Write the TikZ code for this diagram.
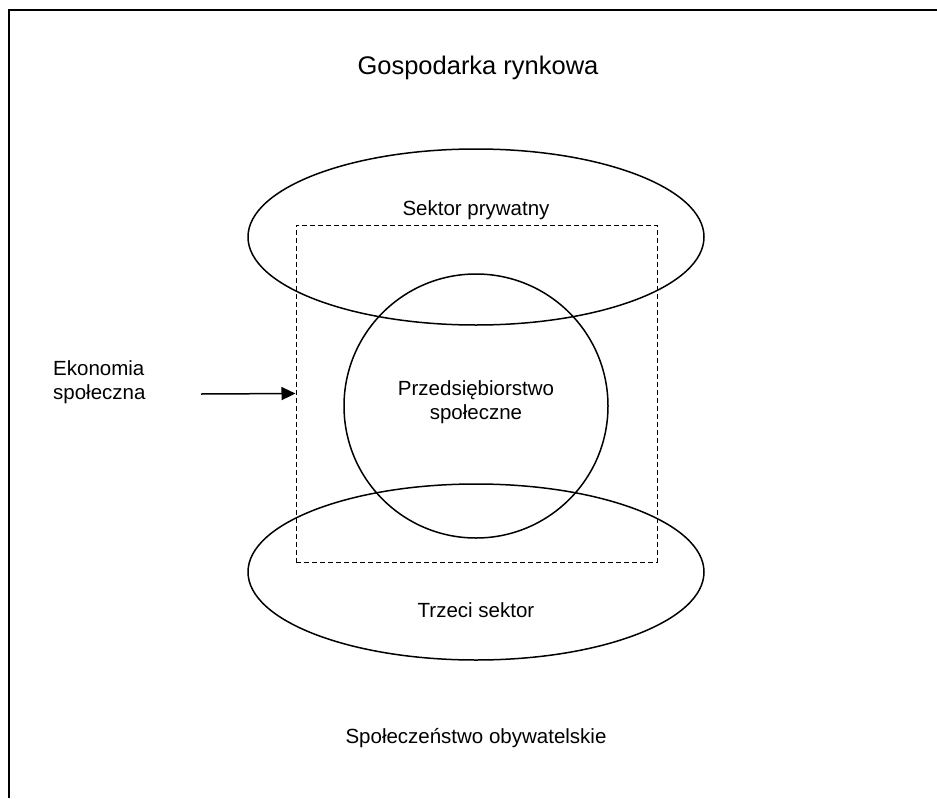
\documentclass[tikz,border=0pt]{standalone}
\usepackage{fontspec}
\setmainfont{Liberation Sans}
\usetikzlibrary{shapes.geometric,arrows.meta}
\tikzset{
  lbl/.style={font=\fontsize{20.5}{24}\selectfont, inner sep=0pt, align=center, anchor=base},
  oval/.style={draw, ellipse, line width=1.5pt, inner sep=0pt, minimum width=456pt, minimum height=176pt},
  ring/.style={draw, circle, line width=1.5pt, inner sep=0pt, minimum size=264pt},
  dashbox/.style={draw, dashed, line width=1pt, dash pattern=on 5pt off 3pt, inner sep=0pt, minimum width=361pt, minimum height=337pt},
  framestyle/.style={line width=2pt}
}
\begin{document}
\begin{tikzpicture}[x=1pt,y=-1pt]
\useasboundingbox (0,0) rectangle (937,798);
\coordinate (fr) at (937,9.5);
\coordinate (fc) at (8.5,9.5);
\coordinate (fb) at (8.5,798);
\draw[framestyle] (fr) -- (fc) -- (fb);
\node[oval] (priv) at (476,237) {};
\node[oval] (third) at (476,572) {};
\node[ring] (se) at (476,406) {};
\node[dashbox] (econ) at (476.5,393.5) {};
\node[lbl, font=\fontsize{25.5}{30}\selectfont] (title) at (478,74) {Gospodarka rynkowa};
\node[lbl] (tpriv) at (476,215) {Sektor prywatny};
\node[lbl] (tse) at (476,419) {Przedsiębiorstwo\\społeczne};
\node[lbl] (tthird) at (476,617) {Trzeci sektor};
\node[lbl] (tcivil) at (476,743) {Społeczeństwo obywatelskie};
\node[lbl, align=left, anchor=base west] (tecon) at (53,399) {Ekonomia\\społeczna};
\coordinate (arrstart) at (201,394);
\draw[line width=1.5pt, -{Triangle[length=14pt,width=13pt]}] (arrstart) -- (econ.west);
\end{tikzpicture}
\end{document}
